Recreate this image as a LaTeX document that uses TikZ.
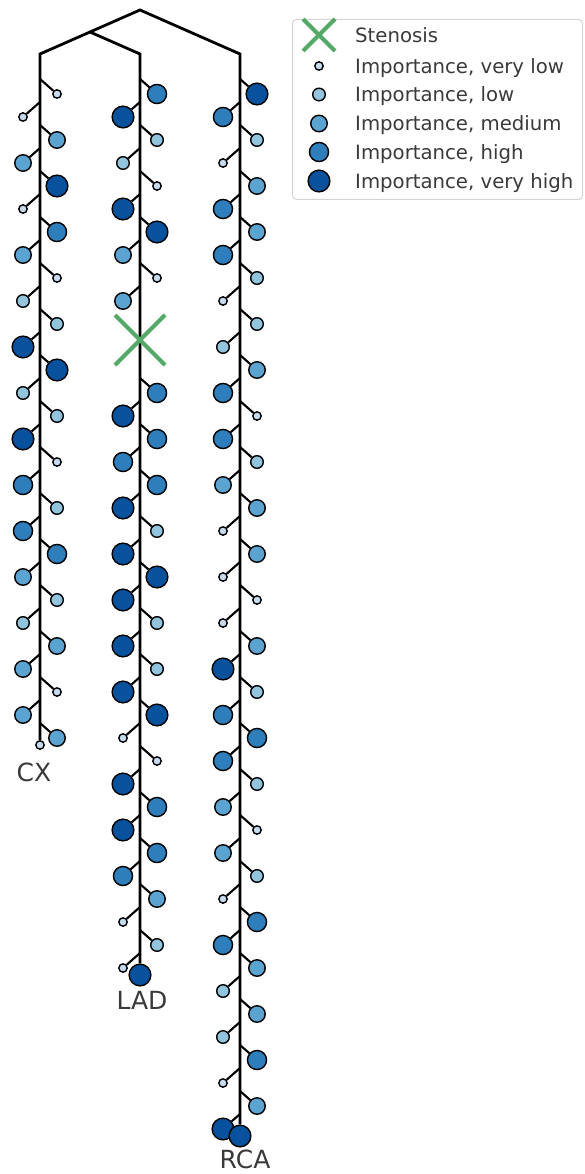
\documentclass[tikz,border=0pt]{standalone}
\usepackage{fontspec}
\setmainfont{DejaVu Sans}
\usetikzlibrary{shapes.misc}
\definecolor{c1}{HTML}{C6DBEF}
\definecolor{c2}{HTML}{92C4DE}
\definecolor{c3}{HTML}{5BA3D0}
\definecolor{c4}{HTML}{2F7EBC}
\definecolor{c5}{HTML}{08519C}
\definecolor{grn}{HTML}{55A868}
\definecolor{txt}{HTML}{3A3A3A}
\definecolor{legbd}{HTML}{D4D4D4}
\begin{document}
\begin{tikzpicture}[x=1pt,y=-1pt,
 imp/.style={circle,draw=black,line width=1.4pt,inner sep=0pt},
 lv1/.style={imp,fill=c1,minimum size=8.4pt},
 lv2/.style={imp,fill=c2,minimum size=12.6pt},
 lv3/.style={imp,fill=c3,minimum size=16.5pt},
 lv4/.style={imp,fill=c4,minimum size=19.1pt},
 lv5/.style={imp,fill=c5,minimum size=21.7pt},
 trunk/.style={line width=2.8pt},
 branch/.style={line width=2.1pt},
 lbl/.style={text=txt,font=\fontsize{25}{30}\selectfont,inner sep=0pt,anchor=base},
 legtxt/.style={text=txt,font=\fontsize{19.7}{24}\selectfont,inner sep=0pt,anchor=base west},
 sten/.style={cross out,draw=grn,line width=4pt,inner sep=0pt}
]
\useasboundingbox (0,0) rectangle (584,1174);
% top structure coordinates
\coordinate (apex) at (140,10);
\coordinate (junc) at (90,32);
\coordinate (cxtop) at (40,54);
\coordinate (ladtop) at (140,54);
\coordinate (rcatop) at (240,54);
% CX
\foreach \l [count=\i from 0, evaluate=\i as \yy using {94+23*\i}, evaluate=\i as \ss using {1-2*mod(\i,2)}] in
 {1,1,3,3,5,1,4,3,1,2,2,5,5,2,2,5,1,4,2,4,4,3,2,2,3,3,1,3,3}{
  \coordinate (cxb\i) at (40,\yy-15);
  \node[lv\l] (cx\i) at ({40+17*\ss},\yy) {};
  \draw[branch] (cxb\i) -- (cx\i);
 }
% LAD
\foreach \l [count=\i from 0, evaluate=\i as \yy using {94+23*\i}, evaluate=\i as \ss using {\i<10 ? 1-2*mod(\i,2) : 2*mod(\i,2)-1}] in
 {4,5,2,2,1,5,5,3,1,3,0,0,0,4,5,4,4,4,5,2,5,5,5,2,5,2,5,5,1,1,5,4,5,4,4,3,1,2,1}{
  \ifnum\l>0
  \coordinate (ladb\i) at (140,\yy-15);
  \node[lv\l] (lad\i) at ({140+17*\ss},\yy) {};
  \draw[branch] (ladb\i) -- (lad\i);
  \fi
 }
% RCA
\foreach \l [count=\i from 0, evaluate=\i as \yy using {94+23*\i}, evaluate=\i as \ss using {1-2*mod(\i,2)}] in
 {5,4,2,1,3,4,3,4,2,1,2,2,3,4,1,4,2,3,3,1,3,1,1,1,3,5,2,4,4,4,2,3,1,3,2,1,4,4,3,2,3,2,4,1,3,5}{
  \coordinate (rcab\i) at (240,\yy-15);
  \node[lv\l] (rca\i) at ({240+17*\ss},\yy) {};
  \draw[branch] (rcab\i) -- (rca\i);
 }
% end nodes
\node[lv1] (cxend) at (40,745) {};
\node[lv5] (ladend) at (140,975) {};
\node[lv5] (rcaend) at (240,1136) {};
% trunks
\draw[trunk] (cxend) -- (cxtop) -- (junc) -- (apex) -- (rcatop) -- (rcaend);
\draw[trunk] (junc) -- (ladtop) -- (ladend);
% stenosis
\node[sten,minimum size=46pt] (sten) at (140,340) {};
% labels
\node[lbl] (cxlab) at (34,781) {CX};
\node[lbl] (ladlab) at (142,1009) {LAD};
\node[lbl] (rcalab) at (245,1168) {RCA};
% legend
\node[draw=legbd,line width=1pt,rounded corners=4pt,fill=white,minimum width=290pt,minimum height=180pt,inner sep=0pt,anchor=north west] (legend) at (292,19) {};
\node[sten,minimum size=28pt] (legX) at (319,35) {};
\node[legtxt] (legT0) at (355,42.2) {Stenosis};
\node[lv1] (legC1) at (319,66) {};
\node[legtxt] (legT1) at (355,73.2) {Importance, very low};
\node[lv2] (legC2) at (319,94.5) {};
\node[legtxt] (legT2) at (355,101.7) {Importance, low};
\node[lv3] (legC3) at (319,123.5) {};
\node[legtxt] (legT3) at (355,130.7) {Importance, medium};
\node[lv4] (legC4) at (319,152) {};
\node[legtxt] (legT4) at (355,159.2) {Importance, high};
\node[lv5] (legC5) at (319,181) {};
\node[legtxt] (legT5) at (355,188.2) {Importance, very high};
\end{tikzpicture}
\end{document}
